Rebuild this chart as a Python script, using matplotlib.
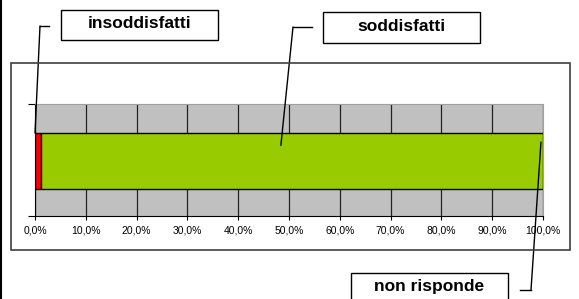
import matplotlib.pyplot as plt
import matplotlib.ticker as ticker
from matplotlib.patches import Rectangle
from matplotlib.lines import Line2D

plt.rcParams['font.family'] = ['Liberation Sans', 'DejaVu Sans']

# data (shares of respondents)
labels = ["insoddisfatti", "soddisfatti", "non risponde"]
values = [0.012, 0.988, 0.0]
colors = ["#FF0000", "#99CC00", "#FFFFFF"]
xticks = [i / 10 for i in range(11)]
xticklabels = [("%.1f%%" % (t * 100)).replace(".", ",") for t in xticks]

W, H = 579, 299
fig = plt.figure(figsize=(W / 100, H / 100), dpi=100)

def fx(x):
    return x / W

def fy(y):
    return 1 - y / H

# outer chart box
fig.patches.append(Rectangle((fx(11), fy(250)), fx(570) - fx(11), fy(63) - fy(250),
                             transform=fig.transFigure, fill=False,
                             edgecolor="#404040", lw=1.2))
# left edge of the frame
fig.lines.append(Line2D([fx(1), fx(1)], [0, 1], transform=fig.transFigure,
                        color="black", lw=1.5))

ax = fig.add_axes([fx(35), fy(216), fx(543) - fx(35), fy(104) - fy(216)])
ax.set_facecolor("#C0C0C0")

left = 0
for lab, v, c in zip(labels, values, colors):
    if v > 0:
        ax.barh(0.49, v, left=left, height=0.5, color=c, edgecolor="black",
                lw=1, zorder=3)
    left += v

ax.set_xlim(0, 1)
ax.set_ylim(0, 1)
ax.xaxis.set_major_locator(ticker.FixedLocator(xticks))
ax.set_xticklabels(xticklabels, fontsize=7.5)
ax.set_yticks([0, 1])
ax.set_yticklabels([])
ax.tick_params(axis="x", length=3, width=0.8, pad=4)
ax.tick_params(axis="y", length=5, width=0.8)
ax.grid(axis="x", color="#222222", lw=0.9, zorder=1)
ax.set_axisbelow(True)
for s in ["top", "right"]:
    ax.spines[s].set_color("#A0A0A0")
for s in ["left", "bottom"]:
    ax.spines[s].set_color("black")

# label boxes with leader lines
boxes = [
    ("insoddisfatti", (61, 10, 218, 40), [(49, 26), (40, 26)], (0.0, 0.74)),
    ("soddisfatti", (323, 12, 480, 43), [(312, 27), (293, 27)], (0.484, 0.63)),
    ("non risponde", (351, 273, 508, 305), [(520, 290), (531, 290)], (0.996, 0.66)),
]
for text, (x0, y0, x1, y1), elbow, tip in boxes:
    fig.patches.append(Rectangle((fx(x0), fy(y1)), fx(x1) - fx(x0), fy(y0) - fy(y1),
                                 transform=fig.transFigure, facecolor="white",
                                 edgecolor="black", lw=1))
    fig.text(fx((x0 + x1) / 2), fy((y0 + y1) / 2 - 1 if y1 < H else 287), text,
             ha="center", va="center", fontsize=12.5, fontweight="bold")
    fig.lines.append(Line2D([fx(elbow[0][0]), fx(elbow[1][0])],
                            [fy(elbow[0][1]), fy(elbow[1][1])],
                            transform=fig.transFigure, color="black", lw=1))
    ax.annotate("", xy=tip, xycoords="data",
                xytext=(fx(elbow[1][0]), fy(elbow[1][1])), textcoords="figure fraction",
                arrowprops=dict(arrowstyle="-", lw=1, color="black",
                                shrinkA=0, shrinkB=0), zorder=5)

fig.savefig("out.png", dpi=100)
